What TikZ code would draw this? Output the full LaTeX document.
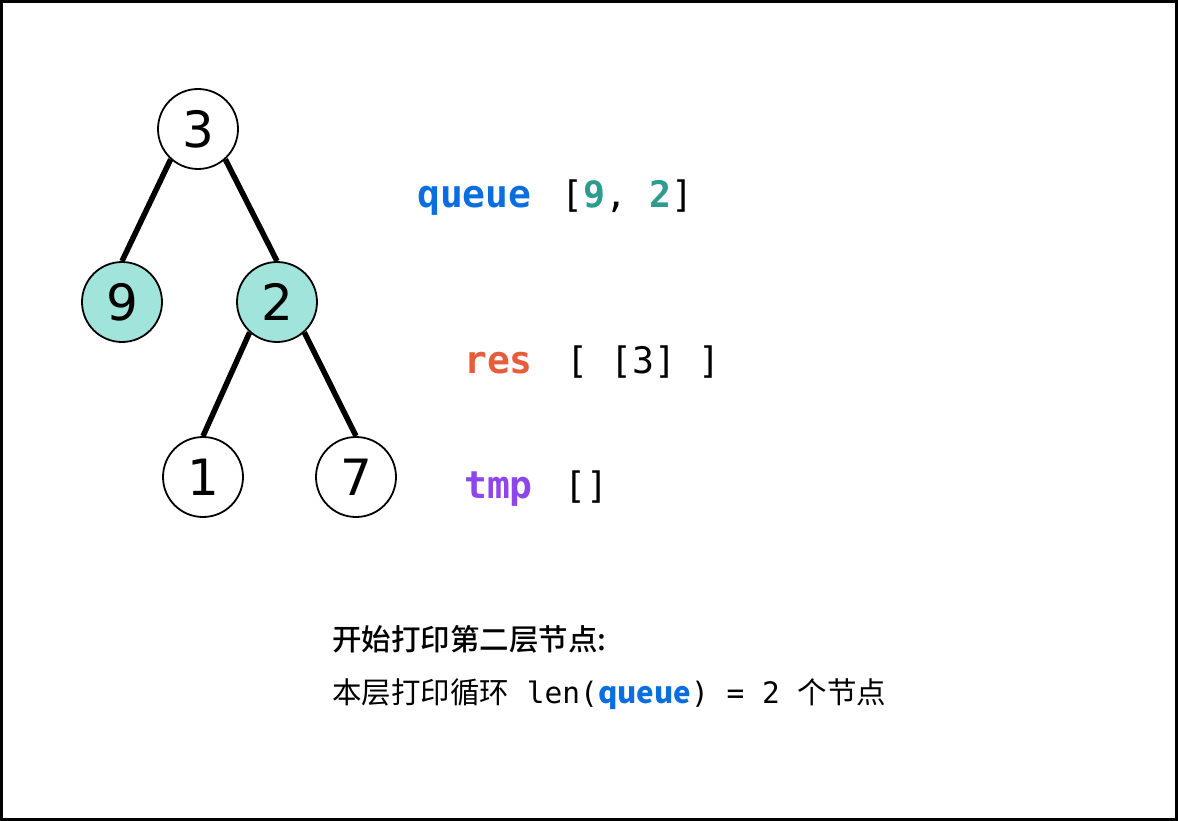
\documentclass[tikz,border=0pt]{standalone}
\usepackage{fontspec}
\newfontfamily\monof{DejaVu Sans Mono}
\newfontfamily\digitf{DejaVu Sans}
\newfontfamily\cjk{Noto Sans CJK SC}
\newfontfamily\cjkm{Noto Sans CJK SC Medium}
\definecolor{qblue}{RGB}{10,110,225}
\definecolor{qteal}{RGB}{42,157,143}
\definecolor{qred}{RGB}{231,93,60}
\definecolor{qpurple}{RGB}{140,70,235}
\definecolor{nodefill}{RGB}{160,228,220}
\tikzset{
  tnode/.style={circle, draw=black, line width=1.8pt, minimum size=80pt, inner sep=0pt, fill=white, font=\digitf\fontsize{50}{52}\selectfont},
  hl/.style={fill=nodefill},
  edge/.style={line width=5.5pt, black},
  lbl/.style={anchor=base west, inner sep=0pt, font=\monof\bfseries\fontsize{38}{40}\selectfont},
  val/.style={anchor=base west, inner sep=0pt, font=\monof\fontsize{36.5}{40}\selectfont},
  note/.style={anchor=base west, inner sep=0pt, font=\cjk\fontsize{29.5}{32}\selectfont},
}
\begin{document}
\begin{tikzpicture}[x=1pt,y=-1pt]
\useasboundingbox (0,0) rectangle (1178,821);
\draw[line width=3pt] (1.5,1.5) rectangle (1176.5,819.5);
% tree
\node[tnode] (n3) at (198,129) {3};
\node[tnode,hl] (n9) at (122,302) {9};
\node[tnode,hl] (n2) at (277,302) {2};
\node[tnode] (n1) at (203,477) {1};
\node[tnode] (n7) at (356,477) {7};
\draw[edge] (n3.-132) -- (n9.north);
\draw[edge] (n3.-48) -- (n2.north);
\draw[edge] (n2.-132) -- (n1.north);
\draw[edge] (n2.-48) -- (n7.north);
% labels
\node[lbl, text=qblue] (ql) at (417,208) {queue};
\node[val] (qv) at (561,208) {[{\bfseries\color{qteal}9}, {\bfseries\color{qteal}2}]};
\node[lbl, text=qred] (rl) at (464,373) {res};
\node[val] (rv) at (566,373) {[ [3] ]};
\node[lbl, text=qpurple] (tl) at (464,498) {tmp};
\node[val] (tv) at (564,498) {[]};
% notes
\node[note, font=\cjkm\fontsize{29.5}{32}\selectfont] (l1) at (332,650) {开始打印第二层节点:};
\node[note] (l2) at (332,703) {本层打印循环{\monof\fontsize{29.5}{32}\selectfont{} len(}{\bfseries\color{qblue}queue}{\monof\fontsize{29.5}{32}\selectfont) = 2 }个节点};
\end{tikzpicture}
\end{document}
